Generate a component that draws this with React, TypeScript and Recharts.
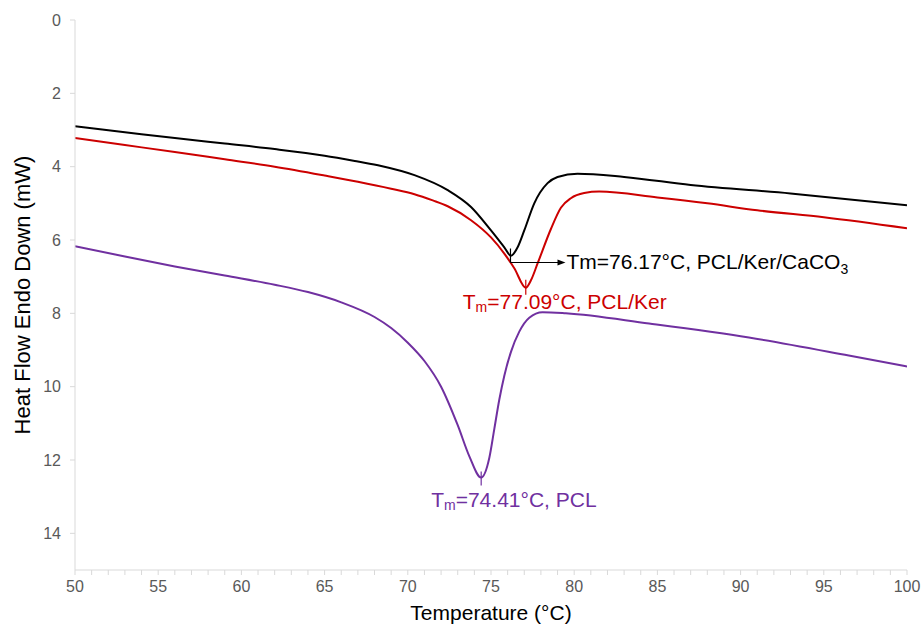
import { Label, Line, LineChart, ReferenceDot, XAxis, YAxis } from "recharts";

// PCL/Ker/CaCO3 (black)
const caco3Temp = [50, 53, 56, 59, 62, 65, 67, 68.4, 70.4, 72.4, 73.8, 75.0, 75.8, 76.2, 76.6, 77.0, 77.6, 78.4, 79.0, 80.2, 83, 87, 93, 100];
const caco3Flow = [2.9, 3.06, 3.22, 3.37, 3.52, 3.7, 3.86, 3.98, 4.23, 4.64, 5.1, 5.74, 6.2, 6.43, 6.2, 5.74, 5.0, 4.45, 4.28, 4.19, 4.28, 4.5, 4.73, 5.05];

// PCL/Ker (red)
const kerTemp = [50, 53, 56, 59, 62, 65, 67, 69, 70.4, 71.5, 72.4, 73.8, 75.0, 75.8, 76.4, 77.09, 77.4, 77.8, 78.6, 79.2, 79.8, 80.6, 81.5, 85, 88, 91, 95, 100];
const kerFlow = [3.22, 3.41, 3.6, 3.8, 4.0, 4.24, 4.41, 4.6, 4.75, 4.92, 5.08, 5.46, 5.93, 6.37, 6.77, 7.3, 7.1, 6.64, 5.7, 5.12, 4.86, 4.72, 4.68, 4.84, 5.0, 5.19, 5.38, 5.68];

// PCL (purple)
const pclTemp = [50, 53, 56, 59, 62, 64, 66, 68, 69, 70, 71, 72, 73, 73.7, 74.41, 74.9, 75.2, 75.5, 75.8, 76.2, 76.7, 77.3, 78.1, 79.5, 84.5, 90.5, 96.5, 100];
const pclFlow = [6.17, 6.45, 6.72, 6.97, 7.22, 7.42, 7.7, 8.1, 8.4, 8.8, 9.3, 10.0, 11.05, 11.9, 12.48, 11.94, 11.15, 10.35, 9.7, 9.05, 8.5, 8.12, 7.97, 8.0, 8.28, 8.66, 9.15, 9.45];

const peakTemps = [76.17, 77.09, 74.41];
const peakFlows = [6.45, 7.3, 12.48];
const peakValues = ["76.17", "77.09", "74.41"];
const peakNames = ["PCL/Ker/CaCO", "PCL/Ker", "PCL"];

const xTicks = Array.from({ length: 51 }, (_, i) => 50 + i);
const yTicks = [0, 2, 4, 6, 8, 10, 12, 14];

const BLACK = "#000000";
const RED = "#cc0000";
const PURPLE = "#7030a0";

const zip = (t: number[], f: number[]) => t.map((temp, i) => ({ temp, flow: f[i] }));

const caco3Data = zip(caco3Temp, caco3Flow);
const kerData = zip(kerTemp, kerFlow);
const pclData = zip(pclTemp, pclFlow);

const FONT = "'Liberation Sans', Arial, sans-serif";

function CaCO3Marker({ cx, cy }: any) {
  return (
    <g>
      <line x1={cx} y1={cy - 8} x2={cx} y2={cy + 6} stroke={BLACK} strokeWidth={1.2} />
      <line x1={cx} y1={cy + 6} x2={cx + 49} y2={cy + 6} stroke={BLACK} strokeWidth={1.2} />
      <path d={`M${cx + 55},${cy + 6} L${cx + 47},${cy + 3} L${cx + 47},${cy + 9} Z`} fill={BLACK} />
      <text x={cx + 56} y={cy + 12} fontSize={21} fill={BLACK} fontFamily={FONT}>
        {`Tm=${peakValues[0]}°C, ${peakNames[0]}`}
        <tspan fontSize={14} dy={5}>3</tspan>
      </text>
    </g>
  );
}

function makeMarker(idx: number, color: string, dx: number, dyText: number, up: number, down: number) {
  return ({ cx, cy }: any) => (
    <g>
      <line x1={cx} y1={cy - up} x2={cx} y2={cy + down} stroke={color} strokeWidth={1.2} />
      <text x={cx + dx} y={cy + dyText} fontSize={21} fill={color} fontFamily={FONT}>
        T
        <tspan fontSize={14} dy={3}>m</tspan>
        <tspan dy={-3}>{`=${peakValues[idx]}°C, ${peakNames[idx]}`}</tspan>
      </text>
    </g>
  );
}

const KerMarker = makeMarker(1, RED, -63, 21, 8, 7);
const PclMarker = makeMarker(2, PURPLE, -50, 29, 6, 8);

export default function App() {
  return (
    <div style={{ position: "fixed", left: 0, top: 0, width: 922, height: 632, background: "#fff" }}>
      <LineChart
        width={922}
        height={632}
        margin={{ top: 20, right: 15, left: 15, bottom: 32 }}
        style={{ fontFamily: FONT }}
      >
        <XAxis
          dataKey="temp"
          type="number"
          domain={[50, 100]}
          ticks={xTicks}
          interval={0}
          allowDataOverflow
          stroke="#d9d9d9"
          tickSize={5}
          tickMargin={6}
          height={30}
          tickFormatter={(v: number) => (v % 5 === 0 ? String(v) : "")}
          tick={{ fill: "#595959", fontSize: 16 }}
        >
          <Label value="Temperature (°C)" position="bottom" offset={5} style={{ fill: "#000", fontSize: 21 }} />
        </XAxis>
        <YAxis
          dataKey="flow"
          type="number"
          reversed
          domain={[0, 15]}
          ticks={yTicks}
          interval={0}
          allowDataOverflow
          stroke="#d9d9d9"
          tickSize={5}
          tickMargin={9}
          width={60}
          tick={{ fill: "#595959", fontSize: 16 }}
        >
          <Label
            value="Heat Flow Endo Down (mW)"
            angle={-90}
            position="insideLeft"
            offset={7}
            style={{ fill: "#000", fontSize: 22, textAnchor: "middle" }}
          />
        </YAxis>
        <Line data={caco3Data} dataKey="flow" type="monotone" stroke={BLACK} strokeWidth={2} dot={false} isAnimationActive={false} />
        <Line data={kerData} dataKey="flow" type="monotone" stroke={RED} strokeWidth={2} dot={false} isAnimationActive={false} />
        <Line data={pclData} dataKey="flow" type="monotone" stroke={PURPLE} strokeWidth={2} dot={false} isAnimationActive={false} />
        <ReferenceDot x={peakTemps[0]} y={peakFlows[0]} shape={CaCO3Marker} ifOverflow="visible" />
        <ReferenceDot x={peakTemps[1]} y={peakFlows[1]} shape={KerMarker} ifOverflow="visible" />
        <ReferenceDot x={peakTemps[2]} y={peakFlows[2]} shape={PclMarker} ifOverflow="visible" />
      </LineChart>
    </div>
  );
}
